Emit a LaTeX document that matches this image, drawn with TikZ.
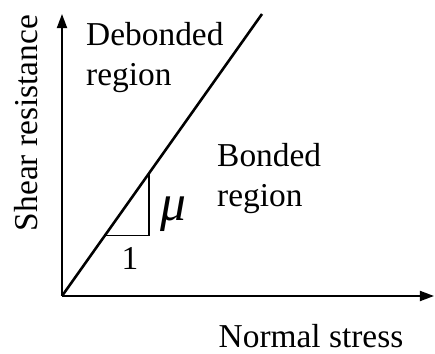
\documentclass[tikz,border=0pt]{standalone}
\usepackage{fontspec}
\setmainfont{Liberation Serif}
\usepackage{tikz}
\usetikzlibrary{positioning, arrows.meta}

\begin{document}
\begin{tikzpicture}[
  x=0.03cm, y=0.03cm,
  label/.style={inner sep=0pt, align=left, font=\fontsize{28.5}{34}\selectfont},
  axis/.style={-{Triangle[length=0.42cm, width=0.3cm]}, line width=1.5pt},
  slope/.style={line width=2.2pt},
  tri/.style={line width=1.4pt}
]

% ===== Frame =====
\useasboundingbox (0,0) rectangle (435,354);

% ===== Axes =====
\coordinate (origin) at (62,58);
\coordinate (ytip) at (62,340);
\coordinate (xtip) at (434,58);
\draw[axis] (origin) -- (ytip);
\draw[axis] (origin) -- (xtip);

% Axis titles
\node[label, rotate=90] (ylab) at (26,231) {Shear resistance};
\node[label] (xlab) at (311,18) {Normal stress};

% ===== Failure line =====
\coordinate (lineend) at (262,340);
\draw[slope] (origin) -- (lineend);

% Slope triangle
\coordinate (tA) at (105,118.6);
\coordinate (tB) at (149,118.6);
\coordinate (tC) at (149,180.7);
\draw[tri] (tA) -- (tB) -- (tC);
\node[label, font=\fontsize{44}{44}\selectfont\itshape] (mu) at (173,140) {μ};
\node[label] (one) at (130,96) {1};

% ===== Regions =====
\node[label, anchor=north west] (debonded) at (86,332) {Debonded\\region};
\node[label, anchor=north west] (bonded) at (217,211) {Bonded\\region};

\end{tikzpicture}
\end{document}
